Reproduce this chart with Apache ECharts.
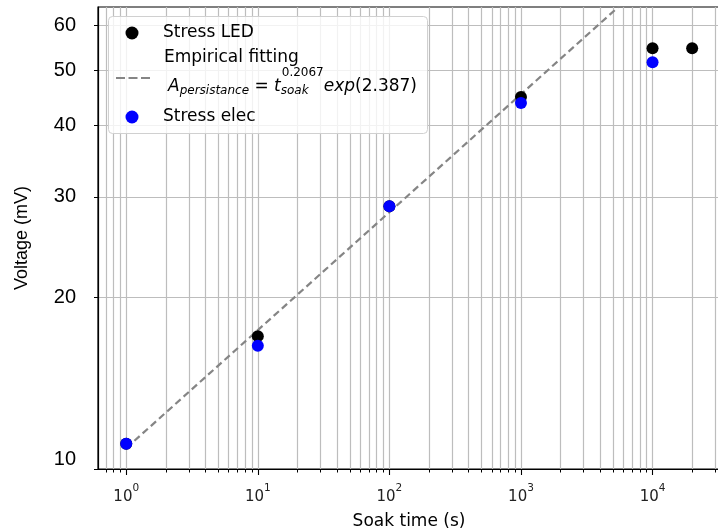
<!DOCTYPE html>
<html><head><meta charset="utf-8">
<script src="https://cdn.jsdelivr.net/npm/echarts@6/dist/echarts.min.js"></script>
<style>html,body{margin:0;padding:0;background:#fff}#c{width:718px;height:532px}</style>
</head><body><div id="c"></div>
<script>
// ---- data ----
const ledTime = [1, 10, 100, 1000, 10000, 20000];
const ledVoltage = [11.07, 17.1, 28.9, 44.9, 54.7, 54.7];
const elecTime = [1, 10, 100, 1000, 10000];
const elecVoltage = [11.07, 16.45, 28.9, 43.85, 51.7];
const fitTime = [1, 20000];
const fitVoltage = [10.88, 84.4];
const xMajorTicks = [1, 10, 100, 1000, 10000];
const xAllTicks = [0.7, 0.8, 0.9,
  1, 2, 3, 4, 5, 6, 7, 8, 9,
  10, 20, 30, 40, 50, 60, 70, 80, 90,
  100, 200, 300, 400, 500, 600, 700, 800, 900,
  1000, 2000, 3000, 4000, 5000, 6000, 7000, 8000, 9000,
  10000, 20000, 30000];
const yTicks = [10, 20, 30, 40, 50, 60];
const seriesNames = ['Stress LED', 'Empirical fitting', 'Stress elec'];

const zip = (a, b) => a.map((v, i) => [v, b[i]]);
const chart = echarts.init(document.getElementById('c'), null, {renderer: 'canvas'});
const DJ = 'DejaVu Sans';
const LS = 'Liberation Sans';
const dashIcon = 'path://M0,0h9v2.2h-9z M12.5,0h9v2.2h-9z M25,0h9v2.2h-9z';
const dotIcon = 'path://M0,6.5 M34,6.5 M23.5,6.5 A6.5,6.5 0 1 1 10.5,6.5 A6.5,6.5 0 1 1 23.5,6.5 Z';
const legendText = {
  fontFamily: DJ, fontSize: 17, color: '#000', lineHeight: 20,
  rich: {
    s1: {fontFamily: DJ, fontSize: 17, color: '#000', lineHeight: 20, padding: [0, 0, 0, 9]},
    l1: {fontFamily: DJ, fontSize: 17, color: '#000', lineHeight: 18, padding: [0, 0, 0, 9]},
    A: {fontFamily: DJ, fontSize: 17, fontStyle: 'italic', color: '#000', lineHeight: 40, padding: [0, 0, 0, 13]},
    it: {fontFamily: DJ, fontSize: 17, fontStyle: 'italic', color: '#000', lineHeight: 40},
    m: {fontFamily: DJ, fontSize: 17, color: '#000', lineHeight: 40},
    sub: {fontFamily: DJ, fontSize: 12, fontStyle: 'italic', color: '#000', padding: [8, 0, 0, 0]},
    sub2: {fontFamily: DJ, fontSize: 12, fontStyle: 'italic', color: '#000', padding: [8, 0, 0, 0], width: 1},
    sup: {fontFamily: DJ, fontSize: 12, color: '#000', lineHeight: 12, verticalAlign: 'top'}
  }
};
const legendBase = {orient: 'vertical', padding: 0, itemHeight: 13, itemWidth: 34, textStyle: legendText, z: 5};
chart.setOption({
  animation: false,
  backgroundColor: '#fff',
  grid: {left: 98, top: 7, right: -2, bottom: 63, outerBoundsMode: 'none', containLabel: false,
         show: true, borderColor: '#000', borderWidth: 1.2, backgroundColor: 'transparent'},
  graphic: [{
    type: 'rect', left: 108, top: 16, z: 4, silent: true,
    shape: {width: 319, height: 117, r: 4},
    style: {fill: 'rgba(255,255,255,0.8)', stroke: '#d0d0d0', lineWidth: 1}
  }],
  xAxis: [{
    type: 'log', logBase: 10, min: 0.61, max: 32560,
    name: 'Soak time (s)', nameLocation: 'middle', nameGap: 44,
    nameTextStyle: {fontFamily: DJ, fontSize: 17, color: '#000'},
    axisLine: {show: true, lineStyle: {color: '#000', width: 1.2}},
    axisTick: {show: true, inside: false, length: 3.5, customValues: xAllTicks, lineStyle: {color: '#000', width: 1}},
    axisLabel: {show: true, customValues: xMajorTicks, margin: 14, fontFamily: DJ, fontSize: 15, color: '#222',
      formatter: v => '{b|10}{e|' + Math.round(Math.log10(v)) + '}',
      rich: {b: {fontFamily: DJ, fontSize: 15, color: '#222', lineHeight: 22, verticalAlign: 'bottom'},
             e: {fontFamily: DJ, fontSize: 10.5, color: '#222', lineHeight: 12, verticalAlign: 'top'}}},
    splitLine: {show: true, lineStyle: {color: '#bdbdbd', width: 1.2}}
  }, {
    type: 'log', logBase: 10, min: 0.61, max: 32560, position: 'bottom',
    axisLine: {show: false},
    axisTick: {show: true, length: 6, customValues: xMajorTicks, lineStyle: {color: '#000', width: 1.1}},
    axisLabel: {show: false}, splitLine: {show: false}
  }],
  yAxis: {
    type: 'log', logBase: 10, min: 9.999, max: 64.6,
    name: 'Voltage (mV)', nameLocation: 'middle', nameGap: 67, nameRotate: 90,
    nameTextStyle: {fontFamily: LS, fontSize: 18, color: '#000'},
    axisLine: {show: true, lineStyle: {color: '#000', width: 1.2}},
    axisTick: {show: true, length: 4, customValues: yTicks, lineStyle: {color: '#000', width: 1}},
    axisLabel: {show: true, customValues: yTicks, margin: 22,
      fontFamily: LS, fontSize: 20, color: '#000',
      formatter: v => Math.round(v) === 10 ? '{t|10}' : '{n|' + Math.round(v) + '}',
      rich: {t: {fontFamily: LS, fontSize: 20, color: '#000', padding: [0, 0, 18, 0]},
             n: {fontFamily: LS, fontSize: 20, color: '#000'}}},
    splitLine: {show: true, lineStyle: {color: '#bdbdbd', width: 1.2}}
  },
  legend: [
    Object.assign({}, legendBase, {left: 115, top: 23,
      data: [{name: seriesNames[0], icon: dotIcon, itemStyle: {color: '#000'}}],
      formatter: name => '{s1|' + name + '}'}),
    Object.assign({}, legendBase, {left: 116, top: 49,
      data: [{name: seriesNames[1], icon: dashIcon, itemStyle: {color: '#858585'}}],
      formatter: () => '{l1|Empirical fitting}\n{A|A}{sub|persistance}{m| = }{it|t}{sub2|soak}{sup|0.2067}{it|exp}{m|(2.387)}'}),
    Object.assign({}, legendBase, {left: 115, top: 107,
      data: [{name: seriesNames[2], icon: dotIcon, itemStyle: {color: '#0000ff'}}],
      formatter: name => '{s1|' + name + '}'})
  ],
  series: [{
    name: seriesNames[1], type: 'line', xAxisIndex: 0, data: zip(fitTime, fitVoltage),
    symbol: 'none', clip: true, z: 1,
    lineStyle: {color: '#858585', width: 2.2, type: [7, 4]}, itemStyle: {color: '#858585'}
  }, {
    name: seriesNames[0], type: 'scatter', xAxisIndex: 0, data: zip(ledTime, ledVoltage),
    symbol: 'circle', symbolSize: 12, z: 2, itemStyle: {color: '#000', opacity: 1}
  }, {
    name: seriesNames[2], type: 'scatter', xAxisIndex: 0, data: zip(elecTime, elecVoltage),
    symbol: 'circle', symbolSize: 12, z: 3, itemStyle: {color: '#0000ff', opacity: 1}
  }]
});
</script></body></html>
